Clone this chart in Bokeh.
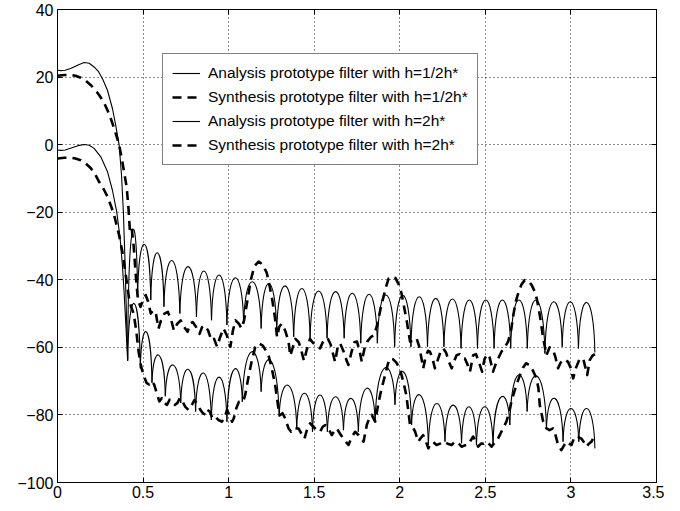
import numpy as np
from bokeh.plotting import figure
from bokeh.models import ColumnDataSource, Legend, LegendItem, LinearAxis, FixedTicker, Range1d
from bokeh.embed import file_html
from bokeh.resources import INLINE

# ---------------- data ----------------
x_ticks = [0, 0.5, 1, 1.5, 2, 2.5, 3, 3.5]
x_tick_labels = ["0", "0.5", "1", "1.5", "2", "2.5", "3", "3.5"]
y_ticks = [-100, -80, -60, -40, -20, 0, 20, 40]
y_tick_labels = ["\u2212100", "\u221280", "\u221260", "\u221240", "\u221220", "0", "20", "40"]

legend_labels = [
    "Analysis prototype filter with h=1/2h*",
    "Synthesis prototype filter with h=1/2h*",
    "Analysis prototype filter with h=2h*",
    "Synthesis prototype filter with h=2h*",
]

# Analysis filter h=1/2h* : passband
a1_pass_x = [0, 0.02, 0.045, 0.08, 0.12, 0.156, 0.185, 0.214, 0.24, 0.265, 0.292, 0.321, 0.34, 0.36, 0.374, 0.385, 0.394, 0.40, 0.41]
a1_pass_y = [22.0, 21.9, 22.0, 22.6, 23.6, 24.3, 24.1, 23.0, 21.6, 19.3, 16.1, 10.7, 5.8, 0.0, -9.0, -20.0, -33.7, -45.0, -63.5]
# Analysis filter h=1/2h* : stopband lobes (nulls and peak levels)
a1_null_x = [0.41, 0.468, 0.545, 0.622, 0.715, 0.812, 0.900, 0.990, 1.088, 1.190, 1.281, 1.380, 1.476, 1.575, 1.675,
             1.772, 1.869, 1.970, 2.065, 2.162, 2.258, 2.358, 2.454, 2.551, 2.648, 2.745, 2.848, 2.949, 3.044, 3.14]
a1_null_y = [-63.5, -45, -46, -48, -50, -51, -52, -53.4, -53, -54.4, -55.4, -56.9, -57.3, -57.3, -57.3,
             -58.8, -58.8, -59.8, -59.8, -59.8, -59.8, -60.3, -60.3, -60.3, -60.3, -60.3, -61.8, -59.8, -60.3, -61.5]
a1_peak_y = [-25.5, -29.5, -32.0, -34.3, -36.1, -37.4, -38.6, -39.4, -40.6, -41.1, -41.8, -42.6, -43.3, -43.5, -44.0,
             -44.3, -44.5, -44.6, -45.0, -45.5, -45.7, -46.0, -46.0, -46.0, -46.0, -46.0, -46.5, -46.5, -46.7]

# Analysis filter h=2h* : passband
a2_pass_x = [0, 0.02, 0.045, 0.08, 0.12, 0.156, 0.185, 0.214, 0.253, 0.292, 0.321, 0.346, 0.366, 0.379, 0.389, 0.40, 0.41]
a2_pass_y = [-1.6, -1.7, -1.6, -1.0, -0.3, 0.06, -0.2, -1.1, -3.6, -8.0, -13.5, -19.9, -27.8, -35.6, -43.5, -54.0, -64.0]
# Analysis filter h=2h* : stopband lobes
a2_null_x = [0.41, 0.484, 0.552, 0.630, 0.720, 0.807, 0.899, 0.990, 1.080, 1.190, 1.295, 1.398, 1.490, 1.577, 1.671,
             1.758, 1.856, 1.972, 2.069, 2.167, 2.264, 2.361, 2.448, 2.545, 2.643, 2.744, 2.857, 2.954, 3.046, 3.14]
a2_null_y = [-64, -66.2, -70.5, -74.5, -76.5, -79, -81.5, -82, -76.1, -73.1, -80.5, -84, -85, -85, -84.5,
             -85, -82, -77, -83, -88.9, -87.9, -88.4, -88.9, -88.9, -83, -79, -84, -87.9, -87.9, -89.9]
a2_peak_y = [-47, -55.4, -62.3, -65.2, -66.5, -67.6, -68.8, -66.4, -61.3, -63.8, -71.2, -73.6, -74.1, -74.6,
             -75.1, -72.1, -66.0, -67.2, -74.1, -76.6, -77.1, -77.6, -77.6, -74.6, -68.2, -68.5, -75.1, -78.1, -78.1]

# Synthesis filter h=1/2h*
d1_x = [0, 0.04, 0.078, 0.105, 0.136, 0.165, 0.195, 0.22, 0.243, 0.27, 0.292, 0.315, 0.331, 0.345, 0.36, 0.379, 0.399,
        0.405, 0.415, 0.423, 0.433, 0.445, 0.458, 0.470, 0.485, 0.50, 0.515, 0.53, 0.545, 0.56, 0.575, 0.59, 0.605,
        0.625, 0.645, 0.665, 0.68, 0.70, 0.72, 0.74, 0.76, 0.775, 0.79, 0.81, 0.83, 0.845, 0.86, 0.88, 0.90, 0.915,
        0.932, 0.95, 0.97, 0.99, 1.01, 1.025, 1.04, 1.06, 1.075, 1.09, 1.11, 1.13, 1.15, 1.175, 1.20, 1.223, 1.24,
        1.255, 1.27, 1.283, 1.295, 1.31, 1.33, 1.35, 1.36, 1.375, 1.39, 1.41, 1.425, 1.44, 1.455, 1.475, 1.49, 1.51,
        1.534, 1.55, 1.565, 1.58, 1.595, 1.622, 1.637, 1.651, 1.67, 1.69, 1.70, 1.72, 1.735, 1.75, 1.765, 1.778,
        1.795, 1.81, 1.83, 1.85, 1.87, 1.89, 1.905, 1.92, 1.935, 1.952, 1.975, 1.995, 2.01, 2.025, 2.04, 2.06, 2.08,
        2.098, 2.115, 2.137, 2.15, 2.165, 2.176, 2.19, 2.205, 2.22, 2.24, 2.254, 2.27, 2.285, 2.303, 2.318, 2.332,
        2.35, 2.365, 2.38, 2.395, 2.41, 2.429, 2.445, 2.46, 2.481, 2.495, 2.51, 2.525, 2.545, 2.56, 2.575, 2.594,
        2.613, 2.633, 2.65, 2.665, 2.68, 2.695, 2.71, 2.73, 2.75, 2.77, 2.789, 2.80, 2.818, 2.838, 2.857, 2.875,
        2.896, 2.91, 2.925, 2.94, 2.96, 2.983, 2.998, 3.013, 3.03, 3.05, 3.071, 3.085, 3.095, 3.11, 3.125, 3.14]
d1_y = [20.4, 20.6, 20.6, 20.4, 19.8, 18.9, 17.6, 16.3, 14.7, 12.6, 10.2, 7.2, 4.8, 2.5, 0.0, -5.1, -11.0,
        -13, -19, -25.5, -24.5, -30, -39, -46, -48, -46, -44.5, -46.5, -50, -49, -50, -54.5, -52,
        -50, -49.5, -52, -55, -53, -52, -54, -55.4, -53, -52.5, -54, -56, -54, -53.5, -55, -58, -57.5,
        -59.8, -57, -54.4, -56.5, -59.8, -55, -52, -53, -54.4, -52, -46, -40, -36, -34.6, -35.5, -38, -42,
        -46, -51, -57, -54, -53, -55, -58.3, -62.5, -60, -57.5, -58.5, -61, -64, -61, -57.5, -58.5, -59.5,
        -60.3, -58.5, -57.3, -57.5, -59, -64.3, -60, -58.8, -61, -64, -65.2, -61, -58.5, -58.3, -61, -64.3,
        -60, -58.3, -57, -56.4, -53, -48, -45, -42, -39.6, -39.1, -39.5, -41.5, -44, -48, -52, -58.3, -58,
        -57.3, -60, -66.2, -63, -61, -61.3, -63, -66.2, -64, -61, -60.3, -61.5, -64, -66.2, -64, -62.3,
        -62, -63, -63.3, -65, -67.2, -62.3, -62, -64, -67.2, -63.5, -62, -63, -67.2, -65, -63.3, -61.3,
        -60, -58.3, -55, -50, -46, -43.5, -41.5, -40.1, -40.3, -41.5, -43.5, -45.5, -50.4, -57.3, -62.3, -60,
        -60.8, -63, -66.2, -64.5, -63.5, -64.3, -66, -69.2, -66, -63.5, -63.3, -66, -68.2, -63.8, -62.5, -62]

# Synthesis filter h=2h*
d2_x = [0, 0.04, 0.078, 0.105, 0.136, 0.165, 0.195, 0.22, 0.243, 0.27, 0.292, 0.315, 0.331, 0.36, 0.379, 0.399,
        0.418, 0.43, 0.445, 0.46, 0.474, 0.49, 0.505, 0.52, 0.535, 0.55, 0.565, 0.58, 0.595, 0.61, 0.625, 0.64,
        0.655, 0.67, 0.685, 0.70, 0.715, 0.73, 0.747, 0.765, 0.785, 0.80, 0.82, 0.835, 0.85, 0.865, 0.875, 0.89,
        0.905, 0.922, 0.94, 0.96, 0.975, 0.99, 1.005, 1.02, 1.03, 1.045, 1.06, 1.085, 1.097, 1.115, 1.135, 1.155,
        1.175, 1.20, 1.233, 1.252, 1.272, 1.291, 1.302, 1.315, 1.33, 1.35, 1.365, 1.38, 1.408, 1.425, 1.443, 1.46,
        1.476, 1.495, 1.515, 1.534, 1.55, 1.565, 1.583, 1.603, 1.62, 1.632, 1.65, 1.67, 1.70, 1.72, 1.739, 1.76,
        1.788, 1.80, 1.807, 1.822, 1.836, 1.856, 1.87, 1.885, 1.90, 1.914, 1.93, 1.941, 1.96, 1.98, 1.999, 2.02,
        2.038, 2.06, 2.075, 2.09, 2.108, 2.12, 2.137, 2.15, 2.167, 2.18, 2.195, 2.215, 2.235, 2.254, 2.28, 2.303,
        2.32, 2.335, 2.361, 2.38, 2.399, 2.415, 2.429, 2.445, 2.458, 2.475, 2.49, 2.506, 2.52, 2.536, 2.55, 2.565,
        2.584, 2.603, 2.623, 2.64, 2.652, 2.667, 2.681, 2.70, 2.72, 2.738, 2.765, 2.797, 2.81, 2.818, 2.838, 2.857,
        2.875, 2.895, 2.91, 2.925, 2.944, 2.96, 2.973, 2.99, 3.003, 3.022, 3.04, 3.061, 3.075, 3.091, 3.105, 3.12, 3.14]
d2_y = [-4.1, -3.9, -3.9, -4.1, -4.6, -5.6, -7.0, -8.8, -11.0, -13.2, -15.4, -18.5, -20.9, -26.8, -31.7, -38.6,
        -45.5, -48, -50, -55, -61.3, -66, -68.5, -70.5, -71, -70, -71, -73.5, -76, -75, -76.5, -77,
        -75.5, -76, -77, -76.5, -75, -76, -77.6, -78.5, -77, -75.6, -77, -78.5, -79.5, -80, -78.5, -79,
        -81, -80.5, -81.5, -82, -81, -78.6, -80, -82, -81, -78, -76.1, -76.1, -74, -69, -64, -60,
        -58.8, -59.5, -62.3, -66.2, -71.2, -78.1, -80, -79.5, -81, -84, -85, -84, -84, -85.5, -87, -84,
        -82.5, -83.5, -84.5, -85, -83.5, -83, -84, -86, -84.5, -84, -85.5, -87, -88.9, -86.5, -85, -86,
        -87.9, -85, -83, -81, -80, -82, -78, -74.1, -71, -68.2, -65, -63.3, -63.5, -64.5, -66.2, -70,
        -74.1, -83, -83.5, -85, -87.9, -87, -86, -87.5, -89.9, -88.5, -88, -88.9, -88.5, -87.9, -88.5, -88.9,
        -88, -88, -89.4, -89, -88.9, -87.5, -86.4, -88, -89.4, -88.5, -88.5, -87.9, -88.5, -89.4, -88.5, -87.9,
        -86, -84, -82, -79, -76.1, -73.5, -71.2, -68.5, -66, -64.7, -65.5, -69, -72, -77.1, -82, -84,
        -84.5, -84, -86, -88.9, -90.4, -89, -87.9, -88.5, -88.9, -86.4, -86.5, -87, -88, -89.4, -88.5, -87.9, -86]


def lobe_source(null_x, null_y, peak_y):
    nx = np.asarray(null_x, dtype=float)
    ny = np.asarray(null_y, dtype=float)
    py = np.asarray(peak_y, dtype=float)
    x0, x1, y0, y1 = nx[:-1], nx[1:], ny[:-1], ny[1:]
    w = x1 - x0
    c = (8 * py - y0 - y1) / 6.0  # control level so the arch passes through the peak
    return ColumnDataSource(dict(x0=x0, y0=y0, x1=x1, y1=y1,
                                 cx0=x0 + 0.08 * w, cy0=c, cx1=x1 - 0.08 * w, cy1=c))


FONT = "Liberation Sans"

p = figure(width=664, height=500, x_range=Range1d(0, 3.5), y_range=Range1d(-100, 40),
           output_backend="svg", toolbar_location=None, title=None,
           min_border_left=57, min_border_right=8, min_border_top=9, min_border_bottom=13)
p.background_fill_color = "white"
p.border_fill_color = "white"
p.outline_line_color = "black"
p.outline_line_width = 1

SOLID_W = 1.1
DASH_W = 2.6
DASH = "9 6"

r_a1 = p.line(a1_pass_x, a1_pass_y, line_color="black", line_width=SOLID_W)
p.bezier(x0="x0", y0="y0", x1="x1", y1="y1", cx0="cx0", cy0="cy0", cx1="cx1", cy1="cy1",
         source=lobe_source(a1_null_x, a1_null_y, a1_peak_y), line_color="black", line_width=SOLID_W)
r_a2 = p.line(a2_pass_x, a2_pass_y, line_color="black", line_width=SOLID_W)
p.bezier(x0="x0", y0="y0", x1="x1", y1="y1", cx0="cx0", cy0="cy0", cx1="cx1", cy1="cy1",
         source=lobe_source(a2_null_x, a2_null_y, a2_peak_y), line_color="black", line_width=SOLID_W)
r_d1 = p.line(d1_x, d1_y, line_color="black", line_width=DASH_W, line_dash=DASH, line_join="round")
r_d2 = p.line(d2_x, d2_y, line_color="black", line_width=DASH_W, line_dash=DASH, line_join="round")

# axes
for ax, ticks, labels in ((p.xaxis[0], x_ticks, x_tick_labels), (p.yaxis[0], y_ticks, y_tick_labels)):
    ax.ticker = FixedTicker(ticks=ticks)
    ax.major_label_overrides = dict(zip(ticks, labels))
    ax.major_tick_in = 5
    ax.major_tick_out = 0
    ax.minor_tick_line_color = None
    ax.axis_line_color = "black"
    ax.major_tick_line_color = "black"
    ax.major_label_text_font = FONT
    ax.major_label_text_font_size = "16px"
    ax.major_label_text_color = "black"
p.xaxis.major_label_standoff = 3
p.yaxis.major_label_standoff = 4

for loc, ticks in (("right", y_ticks), ("above", x_ticks)):
    p.add_layout(LinearAxis(ticker=FixedTicker(ticks=ticks), major_label_text_font_size="1px",
                            major_label_text_color=None, major_label_standoff=0,
                            major_tick_in=5, major_tick_out=0,
                            minor_tick_line_color=None, axis_line_color="black"), loc)

p.xgrid.ticker = FixedTicker(ticks=x_ticks)
p.ygrid.ticker = FixedTicker(ticks=y_ticks)
for g in (p.xgrid, p.ygrid):
    g.grid_line_color = "black"
    g.grid_line_dash = "1 3"
    g.grid_line_width = 1
    g.grid_line_alpha = 0.9

legend = Legend(items=[LegendItem(label=lbl, renderers=[r]) for lbl, r in
                       zip(legend_labels, [r_a1, r_d1, r_a2, r_d2])],
                location=(105, 317), margin=0, padding=9, spacing=4,
                glyph_width=28, glyph_height=20, label_height=20, label_standoff=8,
                label_text_font=FONT, label_text_font_size="15.5px", label_text_color="black",
                border_line_color="black", border_line_width=1,
                background_fill_color="white", background_fill_alpha=1)
p.add_layout(legend)

open("out.html", "w").write(file_html(p, INLINE))
